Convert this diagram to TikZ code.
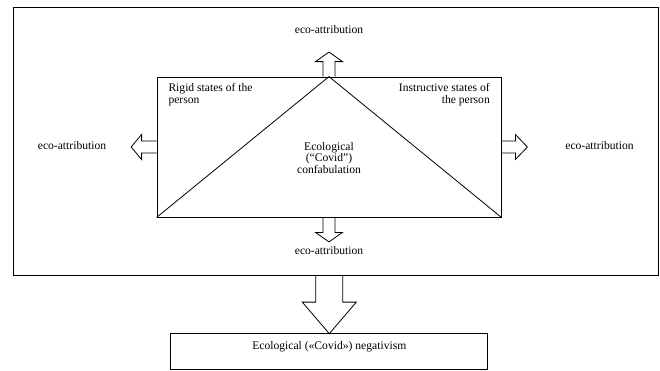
\documentclass[tikz,border=0pt]{standalone}
\usepackage{fontspec}
\setmainfont{Liberation Serif}
\usetikzlibrary{calc,positioning}

\tikzset{
  pics/fatarrow/.style n args={4}{code={
    \draw[arrowline] (0,#3) -- (#1,#3) -- (#1,#4) -- (#1+#2,0) -- (#1,-#4) -- (#1,-#3) -- (0,-#3);
  }},
}

\begin{document}
\begin{tikzpicture}[x=1pt,y=-1pt,
  font=\fontsize{11.6}{11.8}\selectfont,
  box/.style={draw,line width=0.8pt,inner sep=0pt},
  arrowline/.style={line width=0.8pt,line join=miter},
  lbl/.style={inner sep=0pt,anchor=base}]
\useasboundingbox (0,0) rectangle (660,370);
% frames
\node[box,minimum width=645pt,minimum height=268pt] (outer) at (335.5,141) {};
\node[box,minimum width=344pt,minimum height=140pt] (inner) at (329,147) {};
\node[box,anchor=north,minimum width=317pt,text height=15.4pt,text depth=20.6pt] (neg) at (329.3,333.3) {Ecological («Covid») negativism};
\draw[arrowline] (inner.south west) -- (inner.north) -- (inner.south east);
% texts in the inner frame
\node[inner sep=0pt,anchor=north west,align=left] (rigid) at (168.3,83.6) {Rigid states of the\\person};
\node[inner sep=0pt,anchor=north east,align=right] (instr) at (490,83.6) {Instructive states of\\the person};
\node[inner sep=0pt,anchor=north,align=center] (confab) at (329,141.8) {Ecological\\(“Covid”)\\confabulation};
% eco-attribution arrows
\node[lbl] (ecotop) at (329,33) {eco-attribution};
\node[lbl] (ecoleft) at (72,149.7) {eco-attribution};
\node[lbl] (ecoright) at (599.5,149.7) {eco-attribution};
\node[lbl] (ecobot) at (329,254.7) {eco-attribution};
\pic[rotate=90] at (inner.north) {fatarrow={15}{9.5}{6}{13.5}};
\pic[rotate=180] at (inner.west) {fatarrow={15}{10.5}{6}{12.5}};
\pic at (inner.east) {fatarrow={14}{12}{6}{12.5}};
\pic[rotate=-90] at (inner.south) {fatarrow={15}{9.5}{6}{13.5}};
% to the negativism box
\pic[rotate=-90] at (neg.north |- outer.south) {fatarrow={26.7}{31.6}{13.5}{27}};
\end{tikzpicture}
\end{document}
